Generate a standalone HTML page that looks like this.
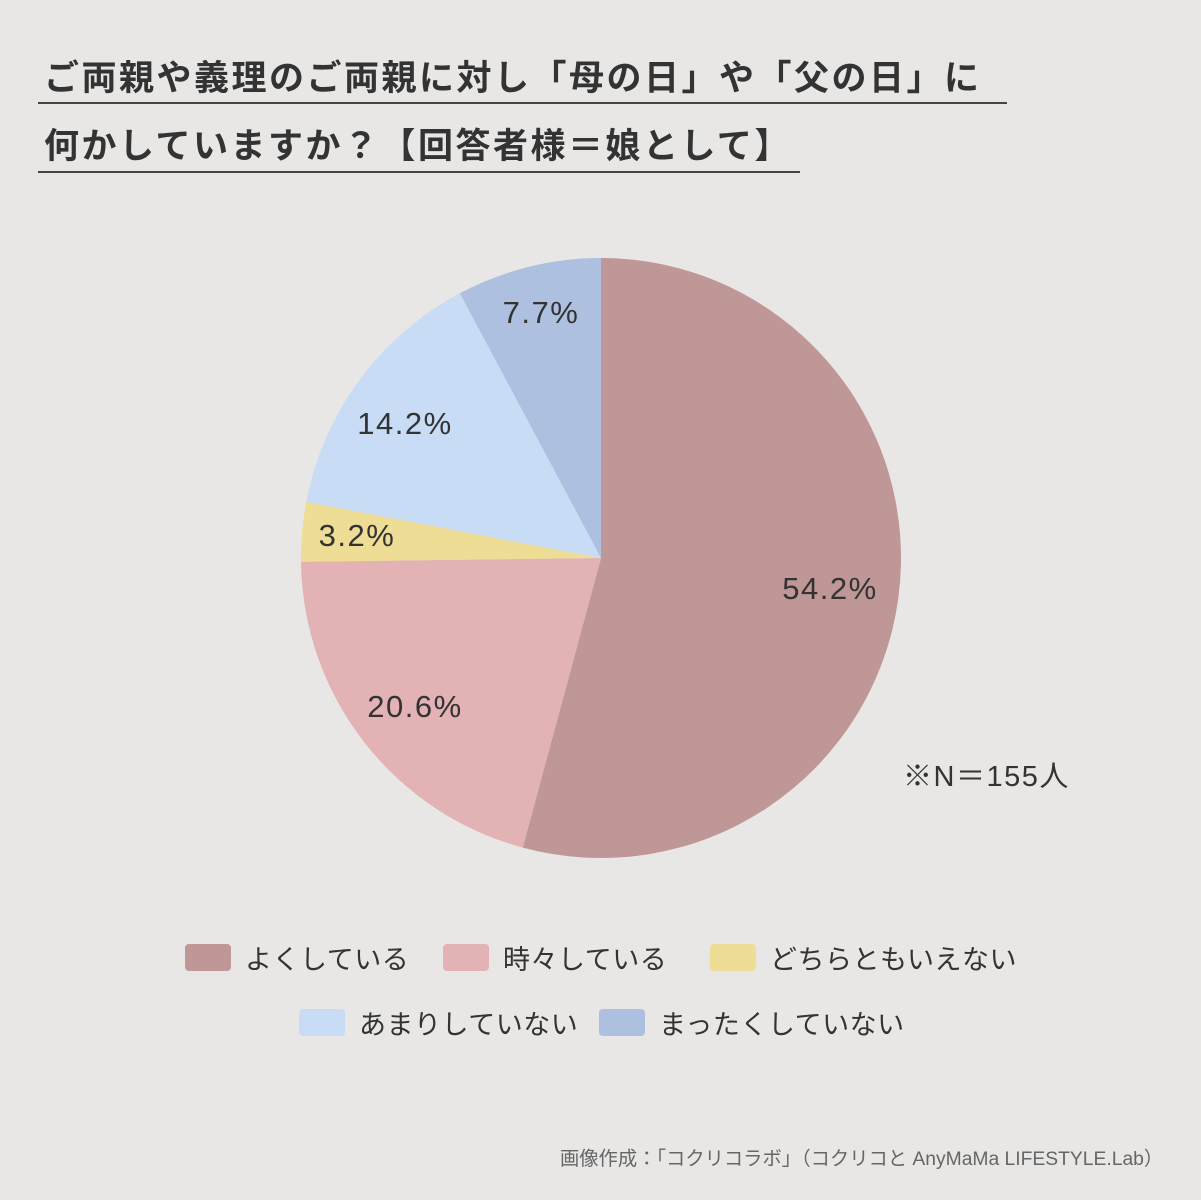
<!DOCTYPE html>
<html><head><meta charset="utf-8"><style>
body{margin:0;width:1201px;height:1200px;background:#e8e7e5;font-family:"Liberation Sans","Noto Sans CJK JP",sans-serif;color:#333;position:relative;overflow:hidden}
.t{position:absolute;left:44px;font-size:35px;font-weight:bold;letter-spacing:2.5px;white-space:nowrap}
.ln{position:absolute;height:2px;background:#444;left:38px}
.lg{position:absolute;font-size:27px;white-space:nowrap;display:flex;align-items:center;letter-spacing:0.5px}
.sw{width:46px;height:27px;border-radius:4px;display:inline-block;margin-right:14px}
</style></head><body>
<div class="t" style="top:50px">ご両親や義理のご両親に対し「母の日」や「父の日」に</div>
<div class="ln" style="top:102px;width:969px"></div>
<div class="t" style="top:118px">何かしていますか？【回答者様＝娘として】</div>
<div class="ln" style="top:171px;width:762px"></div>
<svg width="1201" height="1200" style="position:absolute;left:0;top:0">
<path d="M601 558 L601 258 A300 300 0 1 1 522.7 847.6 Z" fill="#bf9796"/>
<path d="M601 558 L522.7 847.6 A300 300 0 0 1 301 561.8 Z" fill="#e2b2b4"/>
<path d="M601 558 L301 561.8 A300 300 0 0 1 306.3 501.8 Z" fill="#eedd94"/>
<path d="M601 558 L306.3 501.8 A300 300 0 0 1 459.8 293.3 Z" fill="#c8dcf6"/>
<path d="M601 558 L459.8 293.3 A300 300 0 0 1 601 258 Z" fill="#aec0df"/>
<g font-family="Liberation Sans, sans-serif" font-size="31" letter-spacing="1.5" fill="#333" text-anchor="middle">
<text x="830" y="599">54.2%</text>
<text x="415" y="717">20.6%</text>
<text x="357" y="546">3.2%</text>
<text x="405" y="434">14.2%</text>
<text x="541" y="323">7.7%</text>
</g>
<text x="903" y="786" font-size="29" letter-spacing="1.5" fill="#333" font-family="Liberation Sans, Noto Sans CJK JP, sans-serif">※N＝155人</text>
</svg>
<div class="lg" style="left:185px;top:938px"><span class="sw" style="background:#bf9796"></span>よくしている</div>
<div class="lg" style="left:443px;top:938px"><span class="sw" style="background:#e2b2b4"></span>時々している</div>
<div class="lg" style="left:710px;top:938px"><span class="sw" style="background:#eedd94"></span>どちらともいえない</div>
<div class="lg" style="left:299px;top:1003px"><span class="sw" style="background:#c8dcf6"></span>あまりしていない</div>
<div class="lg" style="left:599px;top:1003px"><span class="sw" style="background:#aec0df"></span>まったくしていない</div>
<div style="position:absolute;left:560px;top:1143px;font-size:19.3px;color:#666;white-space:nowrap">画像作成：「コクリコラボ」（コクリコと AnyMaMa LIFESTYLE.Lab）</div>
</body></html>
